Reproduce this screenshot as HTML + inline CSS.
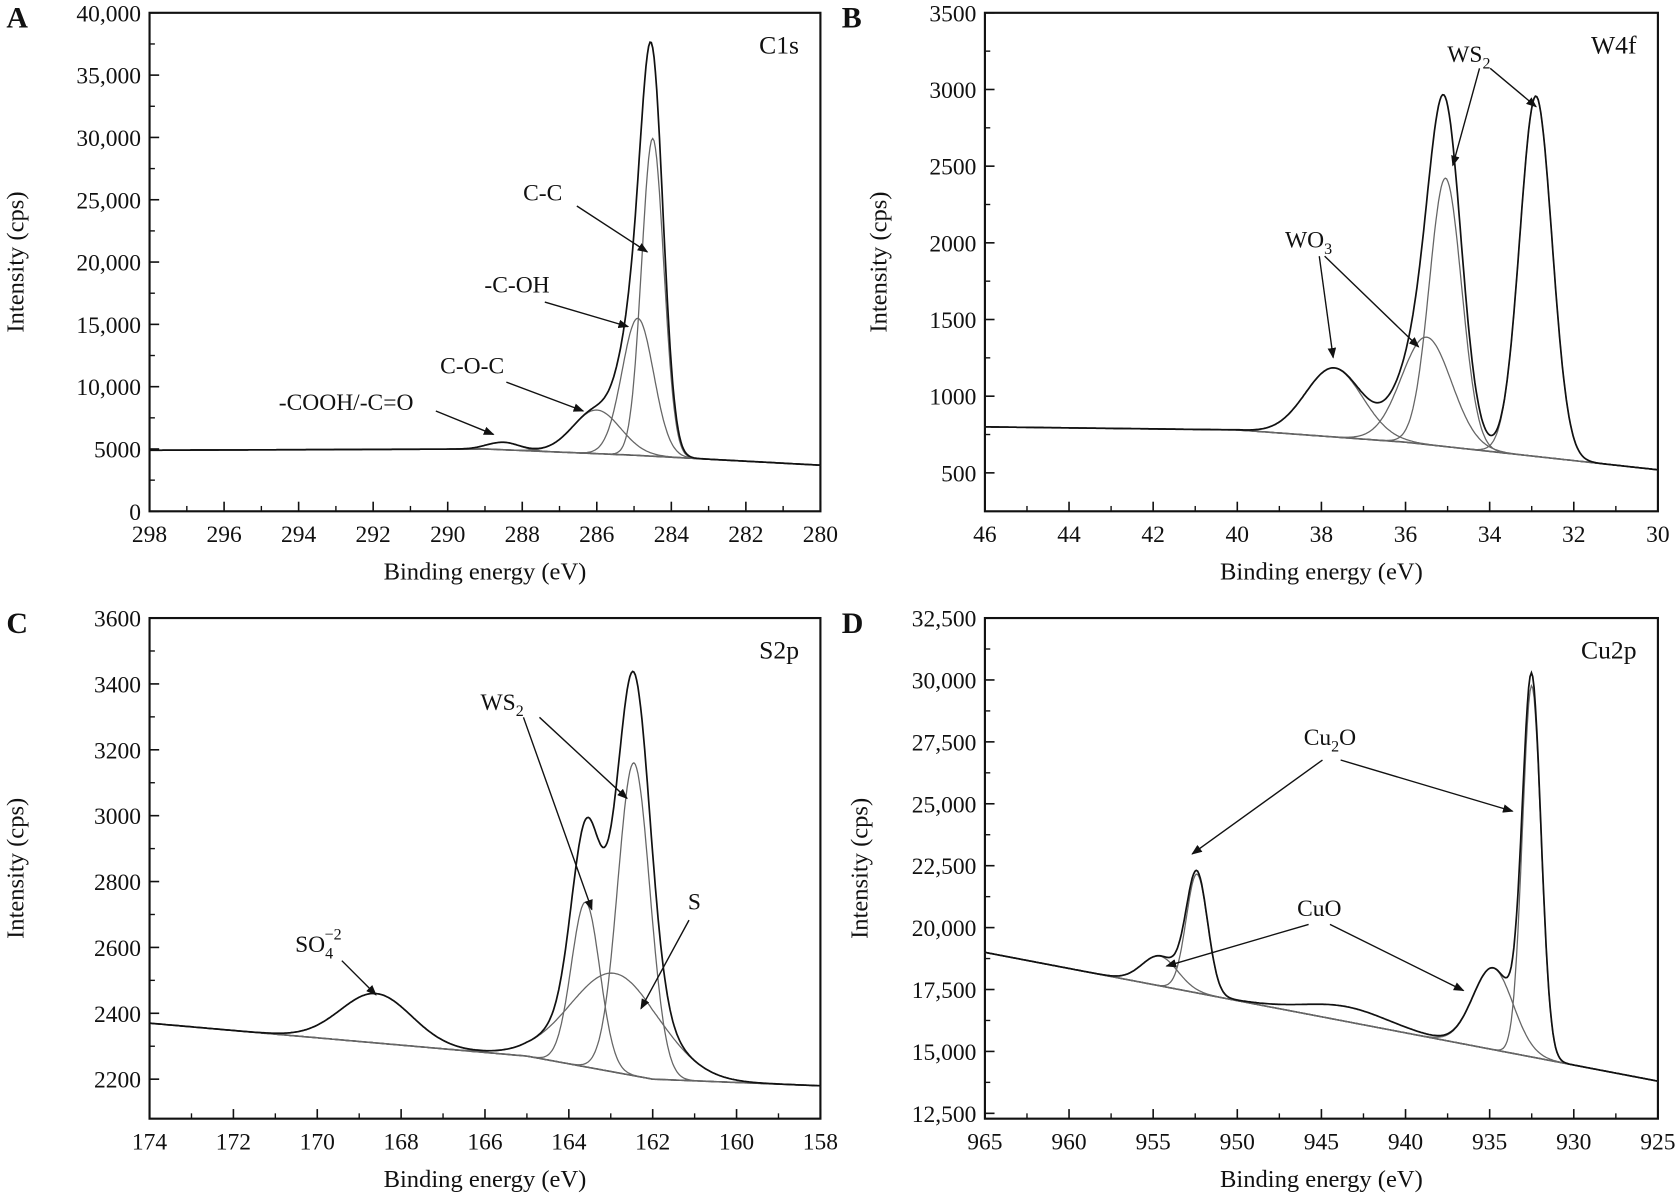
<!DOCTYPE html>
<html><head><meta charset="utf-8"><style>
html,body{margin:0;padding:0;background:#fff;}
svg{display:block;}
text{font-family:"Liberation Serif",serif;fill:#111;}
</style></head><body>
<svg id="fig" width="1675" height="1203" viewBox="0 0 1568 1127" preserveAspectRatio="none" xmlns="http://www.w3.org/2000/svg">
<defs><marker id="ah" markerWidth="10" markerHeight="8" refX="9" refY="4" orient="auto" markerUnits="userSpaceOnUse"><path d="M0,0 L10,4 L0,8 z" fill="#111"/></marker></defs>
<g id="layer"></g>
</svg>
<script>
// ---- data ----
const aXTicks=[298,296,294,292,290,288,286,284,282,280];
const aYTicks=[0,5000,10000,15000,20000,25000,30000,35000,40000];
const aYLabels=["0","5000","10,000","15,000","20,000","25,000","30,000","35,000","40,000"];
const aBg=[[298,4900],[289,5000],[285,4500],[280,3700]];
const aCenters=[284.5,284.9,286.0,288.5];
const aHeights=[25500,11000,3500,600];
const aWidths=[0.7,1.0,1.5,1.0];

const bXTicks=[46,44,42,40,38,36,34,32,30];
const bYTicks=[500,1000,1500,2000,2500,3000,3500];
const bYLabels=["500","1000","1500","2000","2500","3000","3500"];
const bBg=[[46,800],[40,780],[36,700],[30,520]];
const bCenters=[32.9,35.05,35.5,37.7];
const bHeights=[2350,1750,700,450];
const bWidths=[0.9,0.9,1.4,1.6];

const cXTicks=[174,172,170,168,166,164,162,160,158];
const cYTicks=[2200,2400,2600,2800,3000,3200,3400,3600];
const cYLabels=["2200","2400","2600","2800","3000","3200","3400","3600"];
const cBg=[[174,2370],[165,2270],[162,2200],[158,2180]];
const cCenters=[162.45,163.6,162.9,168.6];
const cHeights=[950,500,300,150];
const cWidths=[0.9,0.8,2.5,2.0];

const dXTicks=[965,960,955,950,945,940,935,930,925];
const dYTicks=[12500,15000,17500,20000,22500,25000,27500,30000,32500];
const dYLabels=["12,500","15,000","17,500","20,000","22,500","25,000","27,500","30,000","32,500"];
const dBg=[[965,19000],[925,13800]];
const dCenters=[932.5,952.4,934.8,954.6,943.5];
const dHeights=[15000,4800,3300,1200,600];
const dWidths=[1.3,1.5,2.8,2.5,6];

// ---- drawing ----
const NS="http://www.w3.org/2000/svg";
const layer=document.getElementById('layer');
function mk(tag,attrs,parent){const e=document.createElementNS(NS,tag);for(const k in attrs)e.setAttribute(k,attrs[k]);(parent||layer).appendChild(e);return e;}
function interp(bg,x){for(let i=0;i<bg.length-1;i++){const a=bg[i],b=bg[i+1];if((x<=a[0]&&x>=b[0])){return a[1]+(b[1]-a[1])*(a[0]-x)/(a[0]-b[0]);}}return x>bg[0][0]?bg[0][1]:bg[bg.length-1][1];}
function g(x,c,h,w){const s=w/2.355;return h*Math.exp(-((x-c)*(x-c))/(2*s*s));}
function panel(o){
  const grp=mk('g',{});
  
  
  const sx=v=>o.x0+(o.xMax-v)/(o.xMax-o.xMin)*(o.x1-o.x0);
  const sy=v=>o.y1-(v-o.yMin)/(o.yMax-o.yMin)*(o.y1-o.y0);
  const fr=mk('rect',{x:o.x0,y:o.y0,width:o.x1-o.x0,height:o.y1-o.y0,fill:'none',stroke:'#111','stroke-width':2},grp);
  
  o.xt.forEach((t,i)=>{const X=sx(t);mk('line',{x1:X,y1:o.y1,x2:X,y2:o.y1-9,stroke:'#111','stroke-width':1.5},grp);
    if(i<o.xt.length-1){const m=sx((t+o.xt[i+1])/2);mk('line',{x1:m,y1:o.y1,x2:m,y2:o.y1-5,stroke:'#111','stroke-width':1.3},grp);}
    const tx=mk('text',{x:X,y:o.y1+29,'font-size':22,'text-anchor':'middle'},grp);tx.textContent=t;
    });
  o.yt.forEach((t,i)=>{const Y=sy(t);mk('line',{x1:o.x0,y1:Y,x2:o.x0+9,y2:Y,stroke:'#111','stroke-width':1.5},grp);
    if(i<o.yt.length-1){const m=sy((t+o.yt[i+1])/2);mk('line',{x1:o.x0,y1:m,x2:o.x0+5,y2:m,stroke:'#111','stroke-width':1.3},grp);}
    const tx=mk('text',{x:o.x0-8,y:Y+8,'font-size':22,'text-anchor':'end'},grp);tx.textContent=o.yl[i];
    });
  const xt=mk('text',{x:(o.x0+o.x1)/2,y:o.y1+64,'font-size':23,'text-anchor':'middle'},grp);xt.textContent='Binding energy (eV)';
  
  const cy=(o.y0+o.y1)/2;
  const yt=mk('text',{x:o.ytx,y:cy,'font-size':23,'text-anchor':'middle',transform:`rotate(-90 ${o.ytx} ${cy})`},grp);yt.textContent='Intensity (cps)';
  
  const pl=mk('text',{x:o.x0-134,y:o.y0+14,'font-size':28,'font-weight':'bold'},grp);pl.textContent=o.letter;
  
  const el=mk('text',{x:o.x1-20,y:o.y0+38,'font-size':24,'text-anchor':'end'},grp);el.textContent=o.elem;
  
  const N=500;const xs=[];for(let i=0;i<=N;i++)xs.push(o.xMax-(o.xMax-o.xMin)*i/N);
  const bgp=mk('path',{d:xs.map((x,i)=>(i?'L':'M')+sx(x).toFixed(1)+','+sy(interp(o.bg,x)).toFixed(1)).join(''),fill:'none',stroke:'#333','stroke-width':1.5},grp);
  
  const nComp=o.nComp||o.c.length;
  for(let k=0;k<nComp;k++){
    const p=mk('path',{d:xs.map((x,i)=>(i?'L':'M')+sx(x).toFixed(1)+','+sy(interp(o.bg,x)+g(x,o.c[k],o.h[k],o.w[k])).toFixed(1)).join(''),fill:'none',stroke:'#666','stroke-width':1.2},grp);
    
  }
  const env=x=>{let s=interp(o.bg,x);for(let k=0;k<o.c.length;k++)s+=g(x,o.c[k],o.h[k],o.w[k]);return s;};
  const ep=mk('path',{d:xs.map((x,i)=>(i?'L':'M')+sx(x).toFixed(1)+','+sy(env(x)).toFixed(1)).join(''),fill:'none',stroke:'#111','stroke-width':1.6},grp);
  
  (o.ann||[]).forEach(a=>{
    const t=mk('text',{x:a.tx,y:a.ty,'font-size':22,'text-anchor':'middle'},grp);
    t.innerHTML=a.label;
    
    a.arrows.forEach(ar=>{const l=mk('line',{x1:ar[0],y1:ar[1],x2:ar[2],y2:ar[3],stroke:'#111','stroke-width':1.3,'marker-end':'url(#ah)'},grp);
      });
  });
}
panel({name:'panel-a-c1s',letter:'A',elem:'C1s',x0:140,x1:768,y0:12,y1:479,xMin:280,xMax:298,yMin:0,yMax:40000,xt:aXTicks,yt:aYTicks,yl:aYLabels,bg:aBg,c:aCenters,h:aHeights,w:aWidths,ytx:22,
  ann:[{label:'C-C',tx:508,ty:188,arrows:[[540,193,606,236]]},
       {label:'-C-OH',tx:484,ty:274,arrows:[[510,283,588,306]]},
       {label:'C-O-C',tx:442,ty:350,arrows:[[474,358,546,385]]},
       {label:'-COOH/-C=O',tx:324,ty:384,arrows:[[408,385,462,407]]}]});
panel({name:'panel-b-w4f',letter:'B',elem:'W4f',x0:922,x1:1552,y0:12,y1:479,xMin:30,xMax:46,yMin:500-(36/71.8)*500,yMax:3500,xt:bXTicks,yt:bYTicks,yl:bYLabels,bg:bBg,c:bCenters,h:bHeights,w:bWidths,ytx:830,
  ann:[{label:'WS<tspan font-size="15" dy="6">2</tspan>',tx:1375,ty:58,arrows:[[1385,64,1360,155],[1395,64,1438,100]]},
       {label:'WO<tspan font-size="15" dy="6">3</tspan>',tx:1225,ty:232,arrows:[[1235,240,1248,335],[1240,240,1328,325]]}]});
panel({name:'panel-c-s2p',letter:'C',elem:'S2p',x0:140,x1:768,y0:579,y1:1048,xMin:158,xMax:174,yMin:2200-(1048-1011)/61.7*200,yMax:3600,xt:cXTicks,yt:cYTicks,yl:cYLabels,bg:cBg,c:cCenters,h:cHeights,w:cWidths,ytx:22,
  ann:[{label:'WS<tspan font-size="15" dy="6">2</tspan>',tx:470,ty:665,arrows:[[490,672,554,852],[505,672,587,748]]},
       {label:'S',tx:650,ty:852,arrows:[[645,862,600,945]]},
       {label:'SO<tspan font-size="15" dy="6">4</tspan><tspan font-size="15" dy="-18" dx="-8">−2</tspan>',tx:298,ty:892,arrows:[[320,900,352,932]]}]});
panel({name:'panel-d-cu2p',letter:'D',elem:'Cu2p',x0:922,x1:1552,y0:579,y1:1048,xMin:925,xMax:965,yMin:12500-(1048-1043)/58*2500,yMax:32500,xt:dXTicks,yt:dYTicks,yl:dYLabels,bg:dBg,c:dCenters,h:dHeights,w:dWidths,nComp:4,ytx:812,
  ann:[{label:'Cu<tspan font-size="15" dy="6">2</tspan><tspan dy="-6">O</tspan>',tx:1245,ty:698,arrows:[[1238,712,1116,800],[1255,712,1416,760]]},
       {label:'CuO',tx:1235,ty:858,arrows:[[1225,866,1092,905],[1245,866,1370,928]]}]});
</script>
</body></html>
